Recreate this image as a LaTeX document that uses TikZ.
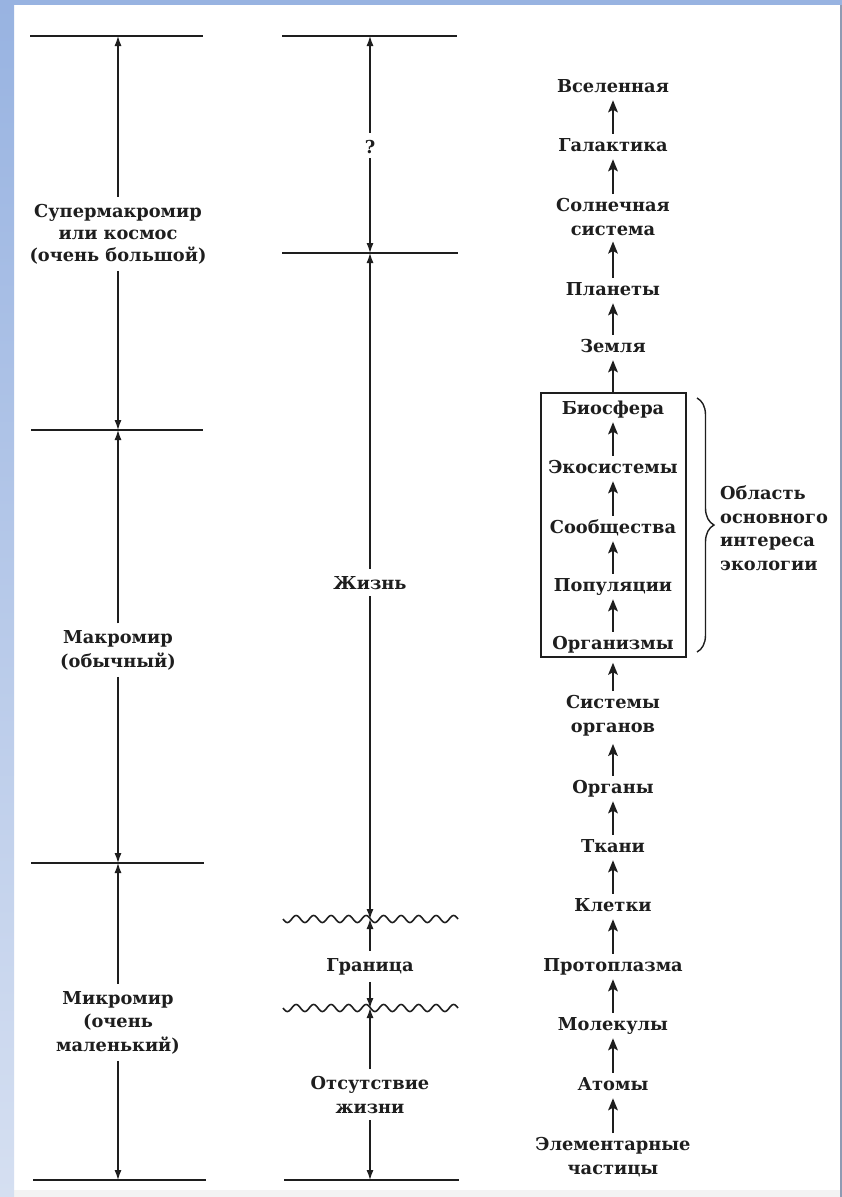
\documentclass[tikz,border=0pt]{standalone}
\usepackage{fontspec}
\setmainfont{DejaVu Serif}
\usetikzlibrary{arrows.meta,decorations.pathreplacing}
\definecolor{frametop}{HTML}{98B3E1}
\definecolor{framebot}{HTML}{D5DFF1}
\definecolor{edgegray}{HTML}{8E9BB3}
\definecolor{bottomstrip}{HTML}{F3F3F3}
\definecolor{ink}{HTML}{1E1E1E}
\newcommand\lblfont{\fontsize{17.8pt}{23.5pt}\selectfont\bfseries}
\newcommand\tightfont{\fontsize{17.8pt}{22pt}\selectfont\bfseries}
\tikzset{
  lbl/.style={font=\lblfont, text=ink, align=center, inner sep=0pt, anchor=base},
  single/.style={lbl, text height=13pt, text depth=4pt},
  dimarrow/.style={draw=ink, -{Latex[length=10pt,width=7pt]}, line width=1.2pt, shorten <=7pt},
  levarrow/.style={draw=ink, -{Stealth[length=12pt,width=9.5pt,inset=2.5pt]}, line width=2.7pt, shorten <=4pt, shorten >=4pt},
  rule/.style={draw=ink, line width=1.8pt},
  wave/.style={draw=ink, line width=1.6pt},
}
\begin{document}
\begin{tikzpicture}[x=1pt,y=-1pt]
\useasboundingbox (0,0) rectangle (842,1197);
\fill[white] (0,0) rectangle (842,1197);
\fill[bottomstrip] (14,1190) rectangle (840,1197);
\shade[top color=frametop, bottom color=framebot] (0,0) rectangle (14,1197);
\fill[frametop] (0,0) rectangle (842,5);
\fill[edgegray] (840,5) rectangle (842,1197);

% ---------- left column ----------
\coordinate (a0) at (118,36);
\coordinate (a1) at (118,430);
\coordinate (a2) at (118,863);
\coordinate (a3) at (118,1180);
\draw[rule] (30,36) -- (203,36);
\draw[rule] (31,430) -- (203,430);
\draw[rule] (31,863) -- (204,863);
\draw[rule] (33,1180) -- (206,1180);

\node[lbl, font=\tightfont] (supermacro) at (118,261) {Супермакромир\\или космос\\(очень большой)};
\node[lbl] (macro) at (118,667) {Макромир\\(обычный)};
\node[lbl] (micro) at (118,1051) {Микромир\\(очень\\маленький)};

\draw[dimarrow] (supermacro.north) -- (a0);
\draw[dimarrow] (supermacro.south) -- (a1);
\draw[dimarrow] (macro.north) -- (a1);
\draw[dimarrow] (macro.south) -- (a2);
\draw[dimarrow] (micro.north) -- (a2);
\draw[dimarrow] (micro.south) -- (a3);

% ---------- middle column ----------
\coordinate (b0) at (370,36);
\coordinate (b1) at (370,253);
\coordinate (b2) at (370,919);
\coordinate (b3) at (370,1008);
\coordinate (b4) at (370,1180);
\draw[rule] (282,36) -- (457,36);
\draw[rule] (282,253) -- (458,253);
\draw[rule] (284,1180) -- (459,1180);
\draw[wave] plot[domain=283:458, samples=241, smooth] (\x, {919 + 3.5*sin(20.5714*(\x-283))});
\draw[wave] plot[domain=283:458, samples=241, smooth] (\x, {1008 + 3.5*sin(20.5714*(\x-283))});

\node[lbl] (q) at (370,153) {?};
\node[lbl] (life) at (370,589) {Жизнь};
\node[lbl] (border) at (370,971) {Граница};
\node[lbl] (nolife) at (370,1113) {Отсутствие\\жизни};

\draw[dimarrow] (q.north) -- (b0);
\draw[dimarrow, shorten <=5pt] (q.south) -- (b1);
\draw[dimarrow] (life.north) -- (b1);
\draw[dimarrow] (life.south) -- (b2);
\draw[dimarrow] (border.north) -- (b2);
\draw[dimarrow] (border.south) -- (b3);
\draw[dimarrow] (nolife.north) -- (b3);
\draw[dimarrow] (nolife.south) -- (b4);

% ---------- right column ----------
\node[single] (universe) at (613,92) {Вселенная};
\node[single] (galaxy) at (613,151) {Галактика};
\node[lbl] (solar) at (613,235) {Солнечная\\система};
\node[single] (planets) at (613,295) {Планеты};
\node[single] (earth) at (613,352) {Земля};
\node[single] (biosphere) at (613,414) {Биосфера};
\node[single] (ecosystems) at (613,473) {Экосистемы};
\node[single] (communities) at (613,533) {Сообщества};
\node[single] (populations) at (613,591) {Популяции};
\node[single] (organisms) at (613,649) {Организмы};
\node[lbl] (organsys) at (613,732) {Системы\\органов};
\node[single] (organs) at (613,793) {Органы};
\node[single] (tissues) at (613,852) {Ткани};
\node[single] (cells) at (613,911) {Клетки};
\node[single] (protoplasm) at (613,971) {Протоплазма};
\node[single] (molecules) at (613,1030) {Молекулы};
\node[single] (atoms) at (613,1090) {Атомы};
\node[lbl] (particles) at (613,1174) {Элементарные\\частицы};

\node[draw=ink, line width=1.4pt, minimum width=145pt, minimum height=264pt, inner sep=0pt] (box) at (613.5,525) {};

\draw[levarrow] (galaxy.north) -- (universe.south);
\draw[levarrow] (solar.north) -- (galaxy.south);
\draw[levarrow, shorten >=6pt] (planets.north) -- (solar.south);
\draw[levarrow] (earth.north) -- (planets.south);
\draw[levarrow, shorten <=0pt] (box.north -| earth.south) -- (earth.south);
\draw[levarrow] (ecosystems.north) -- (biosphere.south);
\draw[levarrow] (communities.north) -- (ecosystems.south);
\draw[levarrow] (populations.north) -- (communities.south);
\draw[levarrow] (organisms.north) -- (populations.south);
\draw[levarrow, shorten >=5pt] (organsys.north) -- (box.south -| organsys.north);
\draw[levarrow, shorten >=8pt] (organs.north) -- (organsys.south);
\draw[levarrow] (tissues.north) -- (organs.south);
\draw[levarrow] (cells.north) -- (tissues.south);
\draw[levarrow] (protoplasm.north) -- (cells.south);
\draw[levarrow] (molecules.north) -- (protoplasm.south);
\draw[levarrow] (atoms.north) -- (molecules.south);
\draw[levarrow] (particles.north) -- (atoms.south);

% brace and label
\draw[draw=ink, line width=1.4pt, decorate, decoration={brace, amplitude=17pt}] (697,398) -- (697,652);
\node[lbl, align=left, anchor=base west] (ecoarea) at (720,570) {Область\\основного\\интереса\\экологии};
\end{tikzpicture}
\end{document}
